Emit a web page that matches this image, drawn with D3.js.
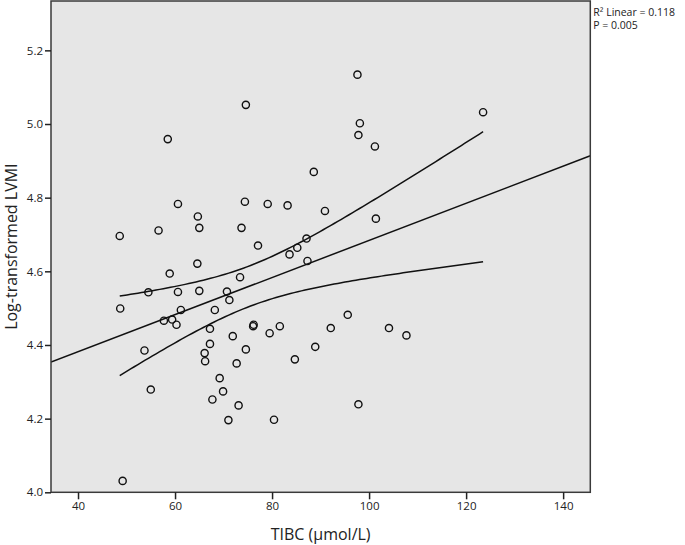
<!DOCTYPE html>
<html><head><meta charset="utf-8">
<script src="https://cdn.jsdelivr.net/npm/d3@7"></script>
<style>
html,body{margin:0;padding:0;background:#fff;}
svg text{font-family:"Open Sans",sans-serif;fill:#222;}
</style></head>
<body>
<svg id="chart" width="685" height="545"></svg>
<script>
const tibc = [74.6,58.5,60.6,74.4,79.1,83.2,64.7,48.6,56.6,65.0,73.7,77.1,83.6,64.6,58.9,73.4,54.5,60.6,65.0,70.7,71.2,48.7,61.2,68.2,57.7,59.4,60.3,67.2,76.1,76.2,71.9,79.5,81.6,67.2,74.6,53.7,66.1,66.2,72.7,69.2,55.0,69.9,67.7,73.1,71.0,80.4,49.2,97.8,85.2,87.3,92.1,88.9,84.7,97.6,123.5,98.1,97.8,101.2,88.6,90.9,101.4,87.1,95.6,104.1,107.7];
const lvmi = [5.052,4.959,4.783,4.789,4.783,4.779,4.749,4.696,4.711,4.718,4.718,4.670,4.646,4.621,4.594,4.584,4.543,4.544,4.547,4.545,4.522,4.499,4.495,4.495,4.466,4.469,4.455,4.444,4.451,4.455,4.424,4.432,4.451,4.403,4.388,4.385,4.378,4.356,4.350,4.310,4.279,4.274,4.252,4.236,4.196,4.197,4.031,4.239,4.664,4.628,4.446,4.395,4.361,5.134,5.032,5.002,4.970,4.939,4.870,4.764,4.743,4.689,4.482,4.446,4.426];
const xTicks = [40,60,80,100,120,140];
const yTicks = [4.0,4.2,4.4,4.6,4.8,5.0,5.2];
const annotation = ["R\u00B2 Linear =  0.118","P = 0.005"];
const xTitle = "TIBC (\u03BCmol/L)";
const yTitle = "Log-transformed LVMI";
const tCrit = 1.998;

const svg = d3.select("#chart");
const L = 51, R = 590.3, T = 1, B = 492.3;
const x = d3.scaleLinear().domain([34.43, 145.6]).range([L, R]);
const y = d3.scaleLinear().domain([4.0, 5.334]).range([B, T]);

svg.append("rect").attr("x", L).attr("y", T).attr("width", R-L).attr("height", B-T)
  .attr("fill", "#e6e6e6");

// regression
const n = tibc.length;
const mx = d3.mean(tibc), my = d3.mean(lvmi);
let sxx = 0, sxy = 0;
for (let i = 0; i < n; i++) { sxx += (tibc[i]-mx)**2; sxy += (tibc[i]-mx)*(lvmi[i]-my); }
const b1 = sxy/sxx, b0 = my - b1*mx;
let sse = 0;
for (let i = 0; i < n; i++) sse += (lvmi[i] - b0 - b1*tibc[i])**2;
const s = Math.sqrt(sse/(n-2));
const half = xv => tCrit*s*Math.sqrt(1/n + (xv-mx)**2/sxx);

const clipId = "clipP";
svg.append("clipPath").attr("id", clipId).append("rect")
  .attr("x", L).attr("y", T).attr("width", R-L).attr("height", B-T);

const g = svg.append("g").attr("clip-path", `url(#${clipId})`);
const line = d3.line().x(d => x(d[0])).y(d => y(d[1]));
const [xmin, xmax] = x.domain();
g.append("path").datum([[xmin, b0+b1*xmin],[xmax, b0+b1*xmax]])
  .attr("d", line).attr("fill","none").attr("stroke","#111").attr("stroke-width",1.5);
const dx0 = d3.min(tibc), dx1 = d3.max(tibc);
const grid = d3.range(0, 101).map(k => dx0 + (dx1-dx0)*k/100);
g.append("path").datum(grid.map(v => [v, b0+b1*v+half(v)]))
  .attr("d", line).attr("fill","none").attr("stroke","#111").attr("stroke-width",1.5);
g.append("path").datum(grid.map(v => [v, b0+b1*v-half(v)]))
  .attr("d", line).attr("fill","none").attr("stroke","#111").attr("stroke-width",1.5);

g.selectAll("circle.pt").data(tibc.map((v,i)=>[v,lvmi[i]])).enter().append("circle")
  .attr("class","pt").attr("cx", d => x(d[0])).attr("cy", d => y(d[1])).attr("r", 3.6)
  .attr("fill","none").attr("stroke","#111").attr("stroke-width",1.4);

// frame
svg.append("rect").attr("x", L).attr("y", T).attr("width", R-L).attr("height", B-T)
  .attr("fill", "none").attr("stroke", "#3a3a3a").attr("stroke-width", 1.5);

// axes
const xAxis = d3.axisBottom(x).tickValues(xTicks).tickSize(7).tickPadding(3).tickFormat(d3.format("d"));
const xg = svg.append("g").attr("transform", `translate(0,${B})`).call(xAxis);
xg.select(".domain").remove();
xg.selectAll("line").attr("stroke","#222").attr("stroke-width",1.5);
xg.selectAll("text").attr("font-size", 11.5).attr("fill","#222").attr("font-family","'Open Sans',sans-serif");

const yAxis = d3.axisLeft(y).tickValues(yTicks).tickSize(6).tickPadding(2).tickFormat(d3.format(".1f"));
const yg = svg.append("g").attr("transform", `translate(${L},0)`).call(yAxis);
yg.select(".domain").remove();
yg.selectAll("line").attr("stroke","#222").attr("stroke-width",1.5);
yg.selectAll("text").attr("font-size", 11.5).attr("fill","#222").attr("font-family","'Open Sans',sans-serif");

svg.append("text").attr("x", (L+R)/2).attr("y", 540).attr("text-anchor","middle")
  .attr("font-size", 16).text(xTitle);
svg.append("text").attr("transform", `translate(17,${(T+B)/2}) rotate(-90)`)
  .attr("text-anchor","middle").attr("font-size", 16).text(yTitle);

svg.selectAll("text.ann").data(annotation).enter().append("text").attr("class","ann")
  .attr("x", R+3).attr("y", (d,i) => 16 + i*13).attr("font-size", 10.5).text(d => d);
</script>
</body></html>
